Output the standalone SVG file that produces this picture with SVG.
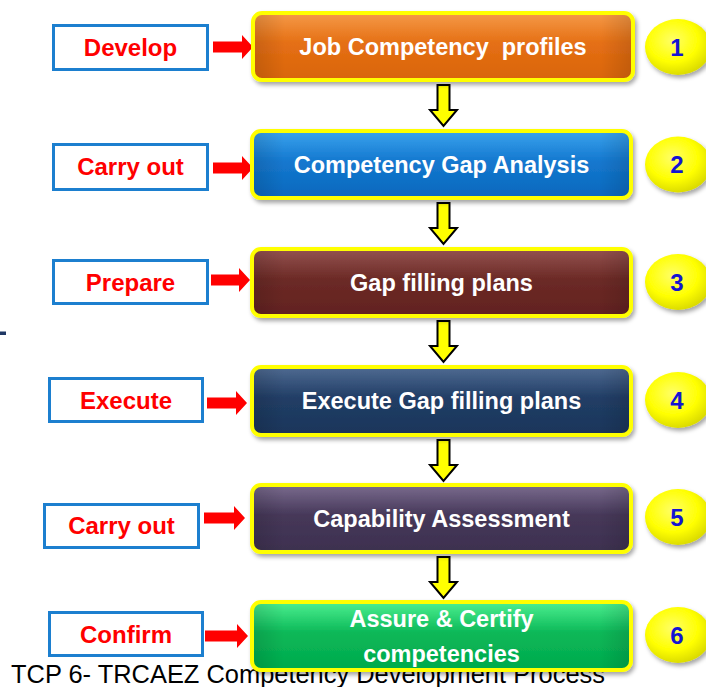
<svg xmlns="http://www.w3.org/2000/svg" width="706" height="687" viewBox="0 0 706 687">
<style>
.step{stroke:#ffff00;stroke-width:4}
.lbl{fill:#ffffff;stroke:#1c7fcf;stroke-width:3}
.lt{font-family:"Liberation Sans",Arial,sans-serif;font-weight:bold;font-size:24px;fill:#ff0000;text-anchor:middle}
.bt{font-family:"Liberation Sans",Arial,sans-serif;font-weight:bold;font-size:23.5px;fill:#ffffff;text-anchor:middle}
.nt{font-family:"Liberation Sans",Arial,sans-serif;font-weight:bold;font-size:24px;fill:#1414d2;text-anchor:middle}
.cap{font-family:"Liberation Sans",Arial,sans-serif;font-size:25.5px;fill:#000000}
.ra{fill:#ff0000}
.da{fill:#ffff00;stroke:#000000;stroke-width:2;stroke-linejoin:miter}
.num{fill:url(#gy);filter:url(#sh)}
.gloss{fill:url(#gl)}
</style>
<defs>
<filter id="sh" x="-10%" y="-20%" width="125%" height="150%">
<feDropShadow dx="2" dy="3" stdDeviation="2" flood-color="#000000" flood-opacity="0.35"/>
</filter>
<linearGradient id="g1" x1="0" y1="0" x2="0" y2="1"><stop offset="0" stop-color="#f59a48"/><stop offset="0.45" stop-color="#e56f14"/><stop offset="1" stop-color="#d9650b"/></linearGradient>
<linearGradient id="g2" x1="0" y1="0" x2="0" y2="1"><stop offset="0" stop-color="#3ba3ee"/><stop offset="0.45" stop-color="#1478cf"/><stop offset="1" stop-color="#0b68bd"/></linearGradient>
<linearGradient id="g3" x1="0" y1="0" x2="0" y2="1"><stop offset="0" stop-color="#945350"/><stop offset="0.45" stop-color="#6c2a26"/><stop offset="1" stop-color="#622220"/></linearGradient>
<linearGradient id="g4" x1="0" y1="0" x2="0" y2="1"><stop offset="0" stop-color="#4f6b92"/><stop offset="0.45" stop-color="#213e66"/><stop offset="1" stop-color="#1b355a"/></linearGradient>
<linearGradient id="g5" x1="0" y1="0" x2="0" y2="1"><stop offset="0" stop-color="#7a6b8e"/><stop offset="0.45" stop-color="#463859"/><stop offset="1" stop-color="#3d304f"/></linearGradient>
<linearGradient id="g6" x1="0" y1="0" x2="0" y2="1"><stop offset="0" stop-color="#4cf090"/><stop offset="0.45" stop-color="#0cb858"/><stop offset="1" stop-color="#00aa4c"/></linearGradient>
<linearGradient id="gl" x1="0" y1="0" x2="1" y2="0"><stop offset="0" stop-color="#000000" stop-opacity="0.12"/><stop offset="0.08" stop-color="#000000" stop-opacity="0"/><stop offset="0.92" stop-color="#000000" stop-opacity="0"/><stop offset="1" stop-color="#000000" stop-opacity="0.12"/></linearGradient>
<radialGradient id="gy" cx="0.42" cy="0.38" r="0.65"><stop offset="0" stop-color="#ffff66"/><stop offset="0.6" stop-color="#ffff00"/><stop offset="1" stop-color="#d8d800"/></radialGradient>
</defs>

<text class="cap" x="11" y="683" textLength="594" lengthAdjust="spacingAndGlyphs">TCP 6- TRCAEZ Competency Development Process</text>
<rect x="0" y="331.5" width="6" height="3.5" fill="#1f3864"/>

<g id="connectors">
<polygon class="ra" points="213,41.5 242,41.5 242,35 253,47 242,59 242,52.5 213,52.5"/>
<polygon class="ra" points="213,162.5 242,162.5 242,156 253,168 242,180 242,173.5 213,173.5"/>
<polygon class="ra" points="211,274.5 239,274.5 239,268 250,280 239,292 239,285.5 211,285.5"/>
<polygon class="ra" points="207,397.5 236,397.5 236,391 247,403 236,415 236,408.5 207,408.5"/>
<polygon class="ra" points="204,512.5 234,512.5 234,506 245,518 234,530 234,523.5 204,523.5"/>
<polygon class="ra" points="205,630.5 237,630.5 237,624 248,636 237,648 237,641.5 205,641.5"/>
<polygon class="da" points="437.5,85 449.5,85 449.5,110 457,110 443.5,126 430,110 437.5,110"/>
<polygon class="da" points="437.5,203 449.5,203 449.5,228 457,228 443.5,244 430,228 437.5,228"/>
<polygon class="da" points="437.5,321 449.5,321 449.5,346 457,346 443.5,362 430,346 437.5,346"/>
<polygon class="da" points="437.5,440 449.5,440 449.5,465 457,465 443.5,481 430,465 437.5,465"/>
<polygon class="da" points="437.5,557 449.5,557 449.5,582 457,582 443.5,598 430,582 437.5,582"/>
</g>

<g id="step1">
<rect class="lbl" x="53.5" y="25.5" width="154" height="44"/>
<text class="lt" x="130.5" y="55.5">Develop</text>
<rect class="step" x="253" y="13" width="380" height="67" rx="9" fill="url(#g1)" filter="url(#sh)"/>
<rect class="gloss" x="255" y="15" width="376" height="63" rx="7"/>
<text class="bt" x="443" y="55" xml:space="preserve">Job Competency  profiles</text>
<ellipse class="num" cx="678" cy="47" rx="33" ry="28"/>
<text class="nt" x="677" y="55.5">1</text>
</g>

<g id="step2">
<rect class="lbl" x="53.5" y="144.5" width="154" height="45"/>
<text class="lt" x="130.5" y="175">Carry out</text>
<rect class="step" x="252" y="131" width="379" height="67" rx="9" fill="url(#g2)" filter="url(#sh)"/>
<rect class="gloss" x="254" y="133" width="375" height="63" rx="7"/>
<text class="bt" x="441.5" y="172.5">Competency Gap Analysis</text>
<ellipse class="num" cx="678" cy="164.5" rx="33" ry="28"/>
<text class="nt" x="677" y="173">2</text>
</g>

<g id="step3">
<rect class="lbl" x="53.5" y="260.5" width="154" height="43"/>
<text class="lt" x="130.5" y="290.5">Prepare</text>
<rect class="step" x="252" y="249" width="379" height="67" rx="9" fill="url(#g3)" filter="url(#sh)"/>
<rect class="gloss" x="254" y="251" width="375" height="63" rx="7"/>
<text class="bt" x="441.5" y="290.5">Gap filling plans</text>
<ellipse class="num" cx="678" cy="282" rx="33" ry="28"/>
<text class="nt" x="677" y="290.5">3</text>
</g>

<g id="step4">
<rect class="lbl" x="49.5" y="378.5" width="153" height="43"/>
<text class="lt" x="126" y="408.5">Execute</text>
<rect class="step" x="252" y="367" width="379" height="68" rx="9" fill="url(#g4)" filter="url(#sh)"/>
<rect class="gloss" x="254" y="369" width="375" height="64" rx="7"/>
<text class="bt" x="441.5" y="409">Execute Gap filling plans</text>
<ellipse class="num" cx="678" cy="400" rx="33" ry="28"/>
<text class="nt" x="677" y="408.5">4</text>
</g>

<g id="step5">
<rect class="lbl" x="44.5" y="504.5" width="154" height="43"/>
<text class="lt" x="121.5" y="533.5">Carry out</text>
<rect class="step" x="252" y="485" width="379" height="67" rx="9" fill="url(#g5)" filter="url(#sh)"/>
<rect class="gloss" x="254" y="487" width="375" height="63" rx="7"/>
<text class="bt" x="441.5" y="527">Capability Assessment</text>
<ellipse class="num" cx="678" cy="517" rx="33" ry="28"/>
<text class="nt" x="677" y="525.5">5</text>
</g>

<g id="step6">
<rect class="lbl" x="49.5" y="612.5" width="153" height="43"/>
<text class="lt" x="126" y="643">Confirm</text>
<rect class="step" x="252" y="602" width="379" height="68" rx="9" fill="url(#g6)" filter="url(#sh)"/>
<rect class="gloss" x="254" y="604" width="375" height="64" rx="7"/>
<text class="bt" x="441.5" y="627">Assure &amp; Certify</text>
<text class="bt" x="441.5" y="661.5">competencies</text>
<ellipse class="num" cx="678" cy="635" rx="33" ry="28"/>
<text class="nt" x="677" y="643.5">6</text>
</g>
</svg>
